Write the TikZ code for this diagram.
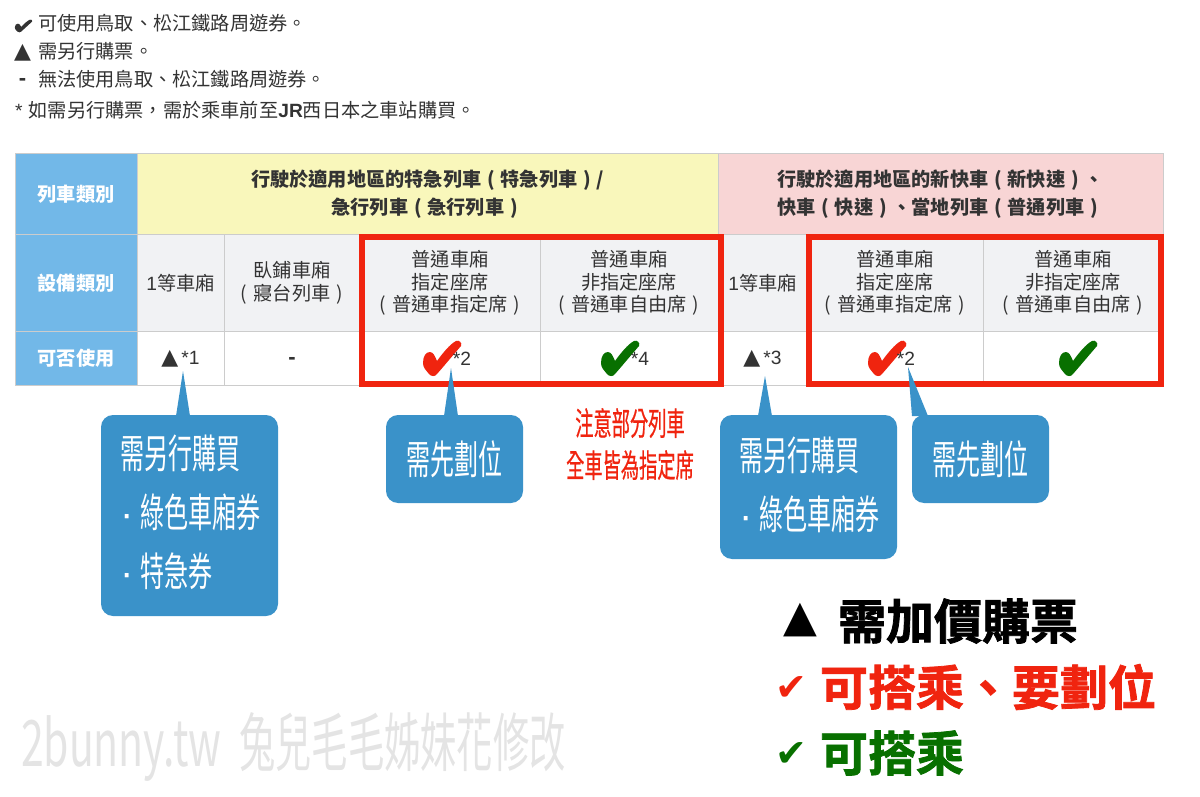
\documentclass[tikz,border=0pt]{standalone}
\usepackage{fontspec}
\setmainfont{Noto Sans CJK TC}
\newfontfamily\symbfont{DejaVu Sans}
\newfontfamily\latinfont{Liberation Sans}
\newfontfamily\narrowfont[FakeStretch=0.6]{Noto Sans CJK TC}
\newfontfamily\warnfont[FakeStretch=0.57,FakeBold=0.6]{Noto Sans CJK TC}
\newfontfamily\wmfont[FakeStretch=0.567]{Noto Sans CJK TC}
\newfontfamily\wmlatin[FakeStretch=0.64]{Noto Sans CJK TC}
\newfontfamily\heavyfont[FakeBold=1.6]{Noto Sans CJK TC Bold}
\usetikzlibrary{positioning}
\definecolor{headblue}{HTML}{72B8E8}
\definecolor{limityellow}{HTML}{F9F7BB}
\definecolor{localpink}{HTML}{F8D5D5}
\definecolor{cellgray}{HTML}{F1F2F4}
\definecolor{gridgray}{HTML}{CCCCCC}
\definecolor{inkgray}{HTML}{333333}
\definecolor{framered}{HTML}{F0240F}
\definecolor{tickgreen}{HTML}{087000}
\definecolor{callblue}{HTML}{3A92C9}
\definecolor{wmgray}{HTML}{E4E4E4}
\newcommand{\trimark}{{\symbfont\fontsize{22}{22}\selectfont ▲}}
\newcommand{\lparen}{\makebox[1em]{(}}
\newcommand{\rparen}{\makebox[1em]{)}}
\newcommand{\latin}[1]{{\latinfont #1}}
\newcommand{\dashmark}{\smash{\raisebox{-5.5pt}{\latinfont\bfseries -}}}
\newcommand{\dotmark}{\makebox[20pt][l]{\latinfont ·}}
\tikzset{tickshape/.pic={
    \fill [shift={(-19,-17.5)}] (0,22) .. controls (0,15) and (3,11) .. (7,11) .. controls (10,11) and (12,15) .. (14,20) .. controls (19,13) and (27,3) .. (33,0) .. controls (36,-1.5) and (39.5,2) .. (38,5) .. controls (31,13) and (21,25) .. (14,33) .. controls (12,36) and (8,35.5) .. (6,33) .. controls (3,29) and (0,27) .. (0,22) -- cycle;
}}

\begin{document}
\begin{tikzpicture}[x=1pt, y=-1pt, node distance=0pt, inner sep=0pt, outer sep=0pt]
    % Define block styles
    \tikzstyle{cell} = [rectangle, draw=gridgray, line width=1pt, align=center, text=inkgray, font=\fontsize{19.2}{22.5}\selectfont]
    \tikzstyle{headcell} = [cell, fill=headblue, text=white, minimum width=122pt, font=\bfseries\fontsize{19.2}{22.5}\selectfont]
    \tikzstyle{titlecell} = [cell, minimum height=81pt, font=\bfseries\fontsize{19.2}{28}\selectfont]
    \tikzstyle{kindcell} = [cell, fill=cellgray, minimum height=97pt]
    \tikzstyle{usecell} = [cell, fill=white, minimum height=54pt]
    \tikzstyle{legendline} = [anchor=west, text=inkgray, font=\fontsize{19.2}{22}\selectfont]
    \tikzstyle{redframe} = [draw=framered, line width=5.5pt]
    \tikzstyle{callout} = [rectangle, rounded corners=12pt, fill=callblue, text=white, anchor=north west, align=left, font=\narrowfont\fontsize{40}{59}\selectfont]
    \tikzstyle{bigline} = [anchor=west, font=\heavyfont\fontsize{48}{50}\selectfont]
    \useasboundingbox (0,0) rectangle (1200,797);

    % Place legend lines
    \pic [inkgray, xscale=0.46, yscale=0.36] (legok) at (23.5,26) {tickshape};
    \node [legendline] (oktext) at (38,23) {可使用鳥取、松江鐵路周遊券。};
    \node [legendline, font=\symbfont\fontsize{22}{22}\selectfont] (legtri) at (14,53) {▲};
    \node [legendline] (tritext) at (38,51) {需另行購票。};
    \node [legendline, font=\fontsize{22}{22}\selectfont] (legdash) at (19,80) {\dashmark};
    \node [legendline] (dashtext) at (38,79) {無法使用鳥取、松江鐵路周遊券。};
    \node [legendline] (notetext) at (15,110) {\latin{*}\hspace{2pt} 如需另行購票，需於乘車前至{\latinfont\bfseries JR}西日本之車站購買。};

    % Place main nodes
    \node [headcell, minimum height=81pt, anchor=north west] (trainkind) at (15,153.5) {列車類別};
    \node [titlecell, fill=limityellow, minimum width=581pt, right=0pt of trainkind] (limited) {行駛於適用地區的特急列車\lparen 特急列車\rparen /\\急行列車\lparen 急行列車\rparen};
    \node [titlecell, fill=localpink, minimum width=445pt, right=0pt of limited] (local) {行駛於適用地區的新快車\lparen 新快速\rparen 、\\快車\lparen 快速\rparen 、當地列車\lparen 普通列車\rparen};

    % Place equipment row
    \node [headcell, minimum height=97pt, below=0pt of trainkind] (equip) {設備類別};
    \node [kindcell, minimum width=87pt, right=0pt of equip] (first) {\latin{1}等車廂};
    \node [kindcell, minimum width=136pt, right=0pt of first] (sleeper) {臥鋪車廂\\\lparen 寢台列車\rparen};
    \node [kindcell, minimum width=180pt, right=0pt of sleeper] (reserved) {普通車廂\\指定座席\\\lparen 普通車指定席\rparen};
    \node [kindcell, minimum width=178pt, right=0pt of reserved] (nonres) {普通車廂\\非指定座席\\\lparen 普通車自由席\rparen};
    \node [kindcell, minimum width=89pt, right=0pt of nonres] (firstb) {\latin{1}等車廂};
    \node [kindcell, minimum width=176pt, right=0pt of firstb] (reservedb) {普通車廂\\指定座席\\\lparen 普通車指定席\rparen};
    \node [kindcell, minimum width=180pt, right=0pt of reservedb] (nonresb) {普通車廂\\非指定座席\\\lparen 普通車自由席\rparen};

    % Place usable row
    \node [headcell, minimum height=54pt, below=0pt of equip] (usable) {可否使用};
    \node [usecell, minimum width=87pt, below=0pt of first] (usefirst) {\trimark\,\latin{*1}};
    \node [usecell, minimum width=136pt, below=0pt of sleeper, font=\fontsize{22}{22}\selectfont] (usesleeper) {\dashmark};
    \node [usecell, minimum width=180pt, below=0pt of reserved] (usereserved) {};
    \node [usecell, minimum width=178pt, below=0pt of nonres] (usenonres) {};
    \node [usecell, minimum width=89pt, below=0pt of firstb] (usefirstb) {\trimark\,\latin{*3}};
    \node [usecell, minimum width=176pt, below=0pt of reservedb] (usereservedb) {};
    \node [usecell, minimum width=180pt, below=0pt of nonresb] (usenonresb) {};

    % Place ticks and their notes
    \pic [framered, xshift=-8pt] (tickone) at (usereserved) {tickshape};
    \node [cell, draw=none, xshift=12pt] (noteone) at (usereserved) {\latin{*2}};
    \pic [tickgreen, xshift=-9pt] (ticktwo) at (usenonres) {tickshape};
    \node [cell, draw=none, xshift=11pt] (notetwo) at (usenonres) {\latin{*4}};
    \pic [framered, xshift=-8pt] (tickthree) at (usereservedb) {tickshape};
    \node [cell, draw=none, xshift=11pt] (notethree) at (usereservedb) {\latin{*2}};
    \pic [tickgreen, xshift=5pt] (tickfour) at (usenonresb) {tickshape};

    % Draw red frames
    \draw [redframe] ([xshift=2pt,yshift=-2.5pt]reserved.north west) rectangle ([xshift=3pt,yshift=1.5pt]usenonres.south east);
    \draw [redframe] ([xshift=2pt,yshift=-2.5pt]reservedb.north west) rectangle ([xshift=-2pt,yshift=1.5pt]usenonresb.south east);

    % Place callouts
    \node [callout, minimum height=201pt, text width=139pt, inner xsep=19pt] (callfirst) at (101,415) {需另行購買\\\mbox{\dotmark 綠色車廂券}\\\mbox{\dotmark 特急券}\vspace{7pt}};
    \node [callout, minimum width=137pt, minimum height=88pt, align=center] (callres) at (386,415) {需先劃位};
    \node [callout, minimum height=144pt, text width=139pt, inner xsep=19pt] (callfirstb) at (720,415) {需另行購買\\\mbox{\dotmark 綠色車廂券}\vspace{5pt}};
    \node [callout, minimum width=137pt, minimum height=88pt, align=center] (callresb) at (912,415) {需先劃位};
    \coordinate (tipfirst) at (183,371);
    \coordinate (tipres) at (451,368);
    \coordinate (tipfirstb) at (765,376);
    \coordinate (tipresb) at (908,367);

    % Draw pointers of the callouts
    \fill [callblue] (tipfirst) -- ([xshift=75pt,yshift=-1pt]callfirst.north west) -- ([xshift=89pt,yshift=-1pt]callfirst.north west) -- cycle;
    \fill [callblue] (tipres) -- ([xshift=58pt,yshift=-1pt]callres.north west) -- ([xshift=72pt,yshift=-1pt]callres.north west) -- cycle;
    \fill [callblue] (tipfirstb) -- ([xshift=38pt,yshift=-1pt]callfirstb.north west) -- ([xshift=52pt,yshift=-1pt]callfirstb.north west) -- cycle;
    \fill [callblue] (tipresb) -- ([xshift=0pt,yshift=-1pt]callresb.north west) -- ([xshift=16pt,yshift=-1pt]callresb.north west) -- cycle;

    % Add warning text
    \node [align=center, text=framered, font=\warnfont\fontsize{32}{42}\selectfont] (warning) at (630,444) {注意部分列車\\全車皆為指定席};

    % Add big legend
    \node [bigline, font=\symbfont\fontsize{44}{44}\selectfont] (bigtri) at (783,620) {▲};
    \node [bigline] (bigtritext) at (838,621) {需加價購票};
    \node [bigline, text=framered, font=\symbfont\fontsize{38}{38}\selectfont] (bigred) at (775,689) {✔};
    \node [bigline, text=framered] (bigredtext) at (820,687) {可搭乘、要劃位};
    \node [bigline, text=tickgreen, font=\symbfont\fontsize{38}{38}\selectfont] (biggreen) at (775,755) {✔};
    \node [bigline, text=tickgreen] (biggreentext) at (820,753) {可搭乘};

    % Add watermark
    \node [anchor=west, text=wmgray, font=\wmfont\fontsize{64}{64}\selectfont] (watermark) at (21,747) {{\wmlatin 2bunny.tw}\hspace{18pt}兔兒毛毛姊妹花修改};
\end{tikzpicture}
\end{document}
